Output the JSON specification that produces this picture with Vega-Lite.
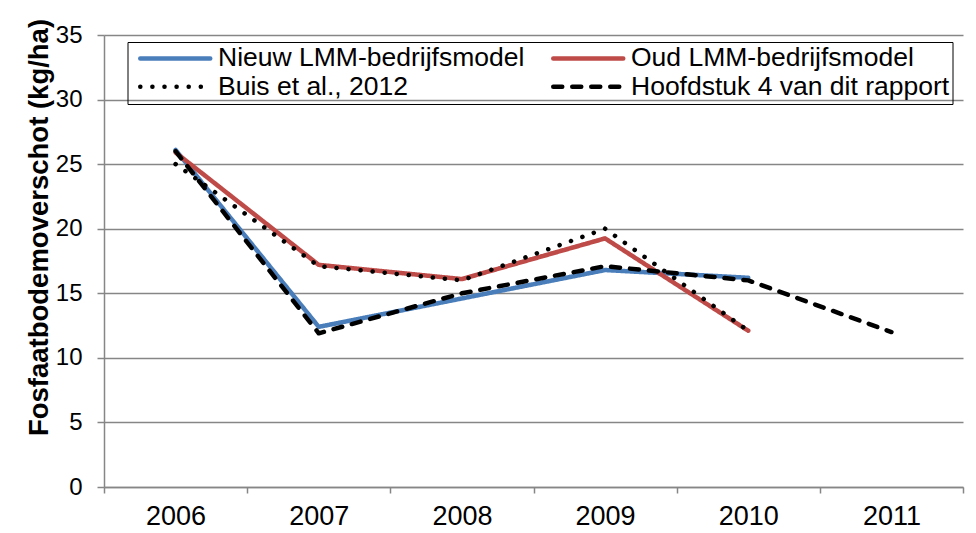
{
  "$schema": "https://vega.github.io/schema/vega-lite/v6.json",
  "width": 859,
  "height": 452,
  "autosize": "none",
  "padding": {"left": 104, "top": 35, "right": 13, "bottom": 46},
  "background": "white",
  "config": {"font": "Liberation Sans", "view": {"stroke": null}},
  "data": {
    "values": [
      {"year": "2006", "series": "Nieuw LMM-bedrijfsmodel", "value": 26.1},
      {"year": "2007", "series": "Nieuw LMM-bedrijfsmodel", "value": 12.4},
      {"year": "2008", "series": "Nieuw LMM-bedrijfsmodel", "value": 14.6},
      {"year": "2009", "series": "Nieuw LMM-bedrijfsmodel", "value": 16.8},
      {"year": "2010", "series": "Nieuw LMM-bedrijfsmodel", "value": 16.2},
      {"year": "2006", "series": "Oud LMM-bedrijfsmodel", "value": 25.9},
      {"year": "2007", "series": "Oud LMM-bedrijfsmodel", "value": 17.2},
      {"year": "2008", "series": "Oud LMM-bedrijfsmodel", "value": 16.1},
      {"year": "2009", "series": "Oud LMM-bedrijfsmodel", "value": 19.25},
      {"year": "2010", "series": "Oud LMM-bedrijfsmodel", "value": 12.1},
      {"year": "2006", "series": "Buis et al., 2012", "value": 25.0},
      {"year": "2007", "series": "Buis et al., 2012", "value": 17.1},
      {"year": "2008", "series": "Buis et al., 2012", "value": 16.0},
      {"year": "2009", "series": "Buis et al., 2012", "value": 20.0},
      {"year": "2010", "series": "Buis et al., 2012", "value": 12.1},
      {"year": "2006", "series": "Hoofdstuk 4 van dit rapport", "value": 26.0},
      {"year": "2007", "series": "Hoofdstuk 4 van dit rapport", "value": 11.9},
      {"year": "2008", "series": "Hoofdstuk 4 van dit rapport", "value": 15.0},
      {"year": "2009", "series": "Hoofdstuk 4 van dit rapport", "value": 17.1},
      {"year": "2010", "series": "Hoofdstuk 4 van dit rapport", "value": 16.0},
      {"year": "2011", "series": "Hoofdstuk 4 van dit rapport", "value": 12.0}
    ]
  },
  "mark": {"type": "line", "strokeCap": "round", "strokeJoin": "round"},
  "encoding": {
    "x": {
      "field": "year",
      "type": "ordinal",
      "bandPosition": 0.5,
      "scale": {"type": "band", "paddingInner": 0, "paddingOuter": 0},
      "axis": {
        "title": null,
        "labelAngle": 0,
        "tickBand": "extent",
        "grid": false,
        "domainColor": "#868686",
        "domainWidth": 1.5,
        "tickColor": "#868686",
        "tickWidth": 1.5,
        "tickSize": 6,
        "labelFontSize": 27,
        "labelColor": "black",
        "labelPadding": 10
      }
    },
    "y": {
      "field": "value",
      "type": "quantitative",
      "scale": {"domain": [0, 35], "nice": false},
      "axis": {
        "title": "Fosfaatbodemoverschot (kg/ha)",
        "values": [0, 5, 10, 15, 20, 25, 30, 35],
        "grid": true,
        "gridColor": "#868686",
        "gridWidth": 1.5,
        "domainColor": "#868686",
        "domainWidth": 1.5,
        "tickColor": "#868686",
        "tickWidth": 1.5,
        "tickSize": 7,
        "labelFontSize": 24,
        "labelColor": "black",
        "labelPadding": 15,
        "titleFontSize": 27.5,
        "titleFontWeight": "bold",
        "titleColor": "black",
        "titleAngle": -90,
        "titleX": -57,
        "titleY": 192,
        "titleAlign": "center",
        "titleBaseline": "alphabetic"
      }
    },
    "strokeWidth": {
      "field": "series",
      "type": "nominal",
      "scale": {
        "domain": ["Nieuw LMM-bedrijfsmodel", "Oud LMM-bedrijfsmodel", "Buis et al., 2012", "Hoofdstuk 4 van dit rapport"],
        "range": [4.5, 4.5, 5.5, 5]
      },
      "legend": null
    },
    "color": {
      "field": "series",
      "type": "nominal",
      "scale": {
        "domain": ["Nieuw LMM-bedrijfsmodel", "Oud LMM-bedrijfsmodel", "Buis et al., 2012", "Hoofdstuk 4 van dit rapport"],
        "range": ["#4a7ebb", "#be4b48", "#000000", "#000000"]
      },
      "legend": {
        "orient": "none",
        "legendX": 23.5,
        "legendY": 7,
        "columns": 2,
        "direction": "horizontal",
        "title": null,
        "symbolType": "M-0.5,0H9.5",
        "symbolSize": 196,
        "symbolStrokeWidth": 4.5,
        "labelFontSize": 26.5,
        "labelColor": "black",
        "labelOffset": 61,
        "strokeColor": "black",
        "padding": 3,
        "rowPadding": 1.5,
        "columnPadding": 19,
        "labelLimit": 600,
        "encode": {"symbols": {"update": {"strokeCap": {"value": "round"}}}}
      }
    },
    "strokeDash": {
      "field": "series",
      "type": "nominal",
      "scale": {
        "domain": ["Nieuw LMM-bedrijfsmodel", "Oud LMM-bedrijfsmodel", "Buis et al., 2012", "Hoofdstuk 4 van dit rapport"],
        "range": [[1, 0], [1, 0], [0.1, 12], [9, 10]]
      }
    }
  }
}
